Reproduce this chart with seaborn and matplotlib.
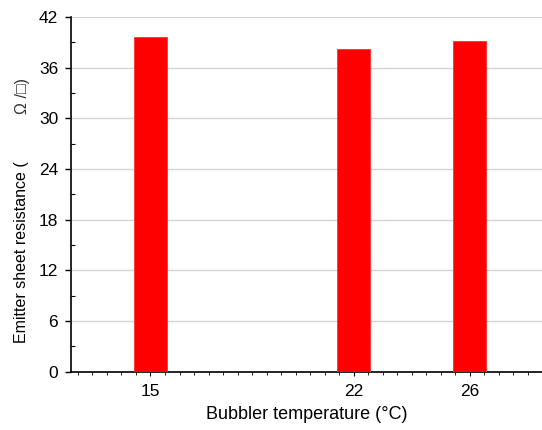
import matplotlib
matplotlib.use("Agg")
import matplotlib.pyplot as plt
from matplotlib.ticker import MultipleLocator, FixedLocator
import seaborn as sns
import pandas as pd

# Bubbler temperature (°C) and measured emitter sheet resistance (Ω/□)
temperatures = [15, 22, 26]
resistance = [39.6, 38.15, 39.1]
y_ticks = [0, 6, 12, 18, 24, 30, 36, 42]

df = pd.DataFrame({"temp": temperatures, "rs": resistance})

sns.set_style("white")
plt.rcParams["font.family"] = ["Liberation Sans", "DejaVu Sans"]
plt.rcParams["text.color"] = "black"
plt.rcParams["xtick.color"] = "black"
plt.rcParams["ytick.color"] = "black"
plt.rcParams["axes.labelcolor"] = "black"

fig = plt.figure(figsize=(5.42, 4.30), dpi=100)
ax = fig.add_axes([0.1304, 0.1356, 0.8696, 0.8253])

sns.barplot(data=df, x="temp", y="rs", native_scale=True, color="#ff0000",
            saturation=1, width=0.285, ax=ax, errorbar=None, zorder=3)
for p in ax.patches:
    p.set_edgecolor("#ff3030")
    p.set_linewidth(0.6)

ax.set_xlim(12.25, 28.49)
ax.set_ylim(0, 42)
ax.yaxis.set_major_locator(FixedLocator(y_ticks))
ax.yaxis.set_minor_locator(MultipleLocator(3))
ax.xaxis.set_major_locator(FixedLocator(temperatures))
ax.xaxis.set_minor_locator(MultipleLocator(0.5))

ax.grid(axis="y", color="#d4d4d4", linewidth=1.0, zorder=0)
ax.set_axisbelow(True)

for side in ("top", "right"):
    ax.spines[side].set_visible(False)
for side in ("left", "bottom"):
    ax.spines[side].set_color("black")
    ax.spines[side].set_linewidth(1.2)

ax.tick_params(axis="y", which="major", direction="out", length=4, width=1,
               labelsize=12.5, pad=5, left=True, colors="black")
ax.tick_params(axis="y", which="minor", direction="in", length=3, width=0.8,
               left=True, colors="black")
ax.tick_params(axis="x", which="major", direction="out", length=3, width=0.8,
               labelsize=12.5, pad=6, bottom=True, colors="black")
ax.tick_params(axis="x", which="minor", direction="out", length=2, width=0.6,
               bottom=True, colors="black")

ax.set_xlabel("Bubbler temperature (°C)", fontsize=13, labelpad=5, color="black")
ax.set_ylabel("")

fig.text(0.040, 0.413, "Emitter sheet resistance (", rotation=90,
         ha="center", va="center", fontsize=11.5, color="black")
fig.text(0.042, 0.777, "Ω /□)", rotation=90, ha="center", va="center",
         fontsize=11.5, family=["Liberation Sans", "DejaVu Sans"], color="#333333")

fig.savefig("out.png", dpi=100)
